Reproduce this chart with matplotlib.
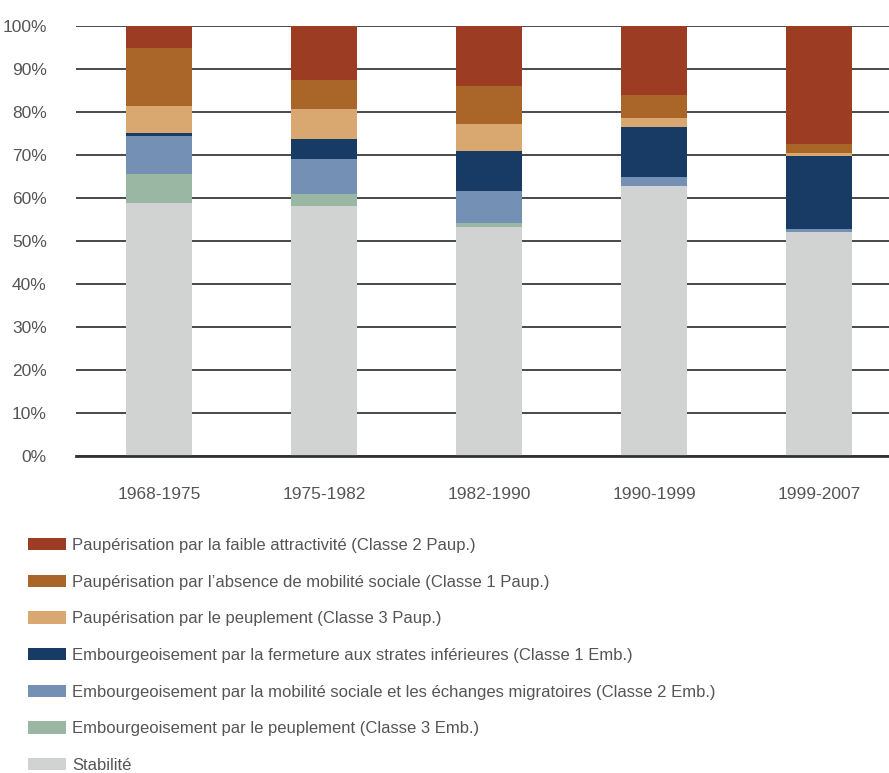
import matplotlib
matplotlib.use("Agg")
import matplotlib.pyplot as plt
from matplotlib.patches import Patch
import numpy as np

plt.rcParams['font.family'] = ['Liberation Sans', 'DejaVu Sans']
plt.rcParams['font.stretch'] = 'condensed'

periods = ['1968-1975', '1975-1982', '1982-1990', '1990-1999', '1999-2007']

# percentages, bottom to top
stabilite = [58.8, 58.2, 53.3, 62.9, 52.1]
emb3 = [6.8, 2.7, 0.9, 0.0, 0.0]
emb2 = [8.9, 8.2, 7.4, 2.1, 0.7]
emb1 = [0.6, 4.6, 9.3, 11.4, 16.9]
paup3 = [6.2, 6.9, 6.3, 2.2, 0.8]
paup1 = [13.5, 6.8, 8.8, 5.4, 2.1]
paup2 = [5.2, 12.6, 14.0, 16.0, 27.4]

series = [
    ('Stabilité', stabilite, '#d1d3d2'),
    ('Embourgeoisement par le peuplement (Classe 3 Emb.)', emb3, '#9ab7a3'),
    ('Embourgeoisement par la mobilité sociale et les échanges migratoires (Classe 2 Emb.)', emb2, '#7590b5'),
    ('Embourgeoisement par la fermeture aux strates inférieures (Classe 1 Emb.)', emb1, '#173b65'),
    ('Paupérisation par le peuplement (Classe 3 Paup.)', paup3, '#d9a770'),
    ('Paupérisation par l\u2019absence de mobilité sociale (Classe 1 Paup.)', paup1, '#aa6628'),
    ('Paupérisation par la faible attractivité (Classe 2 Paup.)', paup2, '#9c3d23'),
]

fig = plt.figure(figsize=(8.89, 7.73), dpi=100)
ax = fig.add_axes([76 / 889, 1 - 456 / 773, 813 / 889, 430 / 773])

x = np.arange(len(periods))
bottom = np.zeros(len(periods))
handles = []
for label, vals, color in series:
    ax.bar(x, vals, 0.4, bottom=bottom, color=color, edgecolor='none', zorder=2)
    bottom += np.array(vals)
    handles.append(Patch(facecolor=color, label=label))

ax.set_ylim(0, 100)
ax.set_xlim(-0.503, 4.424)
ax.set_yticks(range(0, 101, 10))
ax.set_yticklabels([f'{v}%' for v in range(0, 101, 10)])
ax.set_xticks(x)
ax.set_xticklabels(periods)
ax.yaxis.grid(True, color='#2a2a2a', linewidth=1.2, zorder=1)
ax.set_axisbelow(True)
for s in ['top', 'right', 'left']:
    ax.spines[s].set_visible(False)
ax.spines['bottom'].set_color('#333333')
ax.spines['bottom'].set_linewidth(2)
ax.tick_params(length=0, labelsize=12.5, colors='#555555')
ax.tick_params(axis='x', pad=22)
ax.tick_params(axis='y', pad=21)

fig.legend(handles=handles[::-1], loc='upper left', bbox_to_anchor=(13 / 889, 1 - 523 / 773),
           frameon=False, fontsize=12, labelcolor='#555555',
           handlelength=2.25, handleheight=0.75, handletextpad=0.42, labelspacing=1.3)

fig.savefig('out.png', dpi=100)
